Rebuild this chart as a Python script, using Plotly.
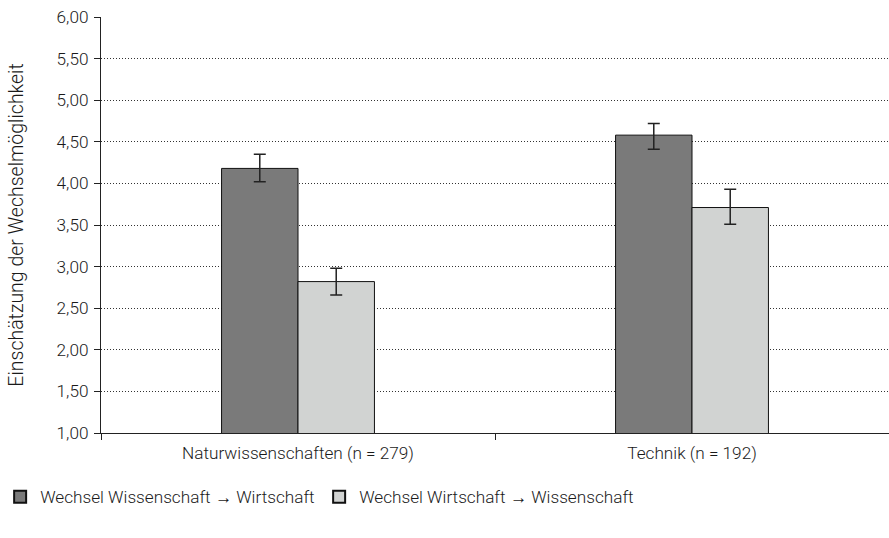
import plotly.graph_objects as go

categories = ["Naturwissenschaften (n = 279)", "Technik (n = 192)"]
series_names = ["Wechsel Wissenschaft \u2192 Wirtschaft", "Wechsel Wirtschaft \u2192 Wissenschaft"]
values_ws_wi = [4.18, 4.58]
err_ws_wi_plus = [0.17, 0.14]
err_ws_wi_minus = [0.16, 0.17]
values_wi_ws = [2.82, 3.71]
err_wi_ws_plus = [0.16, 0.22]
err_wi_ws_minus = [0.16, 0.20]
y_ticks = [1.0, 1.5, 2.0, 2.5, 3.0, 3.5, 4.0, 4.5, 5.0, 5.5, 6.0]
y_tick_labels = [f"{v:.2f}".replace(".", ",") for v in y_ticks]

FONT = "Roboto, Liberation Sans, sans-serif"
FCOL = "#1a1a1a"
fnt = dict(family=FONT, size=17.2, color=FCOL, weight=300)
title_fnt = dict(family=FONT, size=19.5, color=FCOL, weight=300)

fig = go.Figure()
fig.add_trace(go.Bar(
    x=categories, y=values_ws_wi, name=series_names[0],
    marker=dict(color="#7a7a7a", line=dict(color="#111111", width=1)),
    error_y=dict(type="data", symmetric=False, array=err_ws_wi_plus, arrayminus=err_ws_wi_minus,
                 color="#222222", thickness=1.5, width=6),
))
fig.add_trace(go.Bar(
    x=categories, y=values_wi_ws, name=series_names[1],
    marker=dict(color="#d1d3d2", line=dict(color="#111111", width=1)),
    error_y=dict(type="data", symmetric=False, array=err_wi_ws_plus, arrayminus=err_wi_ws_minus,
                 color="#222222", thickness=1.5, width=6),
))

fig.update_layout(
    width=889, height=538,
    margin=dict(l=101, r=0, t=17, b=105),
    paper_bgcolor="white", plot_bgcolor="white",
    barmode="group", bargap=0.612, bargroupgap=0,
    font=fnt,
    showlegend=True,
    legend=dict(orientation="h", x=-0.128, xanchor="left", y=-0.1538, yanchor="middle",
                entrywidth=274, entrywidthmode="pixels",
                font=fnt, itemsizing="constant"),
)
fig.update_xaxes(
    type="category", tickson="boundaries", ticks="outside", ticklen=6, tickcolor="#222222",
    showline=True, linecolor="#222222", linewidth=1.2, showgrid=False,
    range=[-0.5, 1.5], automargin=False, tickfont=fnt, ticklabelstandoff=4,
)
fig.update_yaxes(
    range=[1.0, 6.0], tickvals=y_ticks, ticktext=y_tick_labels,
    ticks="outside", ticklen=6, tickcolor="#222222",
    showline=True, linecolor="#222222", linewidth=1.2,
    showgrid=True, gridcolor="#333333", gridwidth=1, griddash="1px,2px",
    zeroline=False, automargin=False, tickfont=fnt, ticklabelstandoff=2,
    title=dict(text="Einsch\u00e4tzung der Wechselm\u00f6glichkeit", standoff=27, font=title_fnt),
)

fig.write_html("out.html", config={"displayModeBar": False},
               post_script="document.body.style.margin='0';")
